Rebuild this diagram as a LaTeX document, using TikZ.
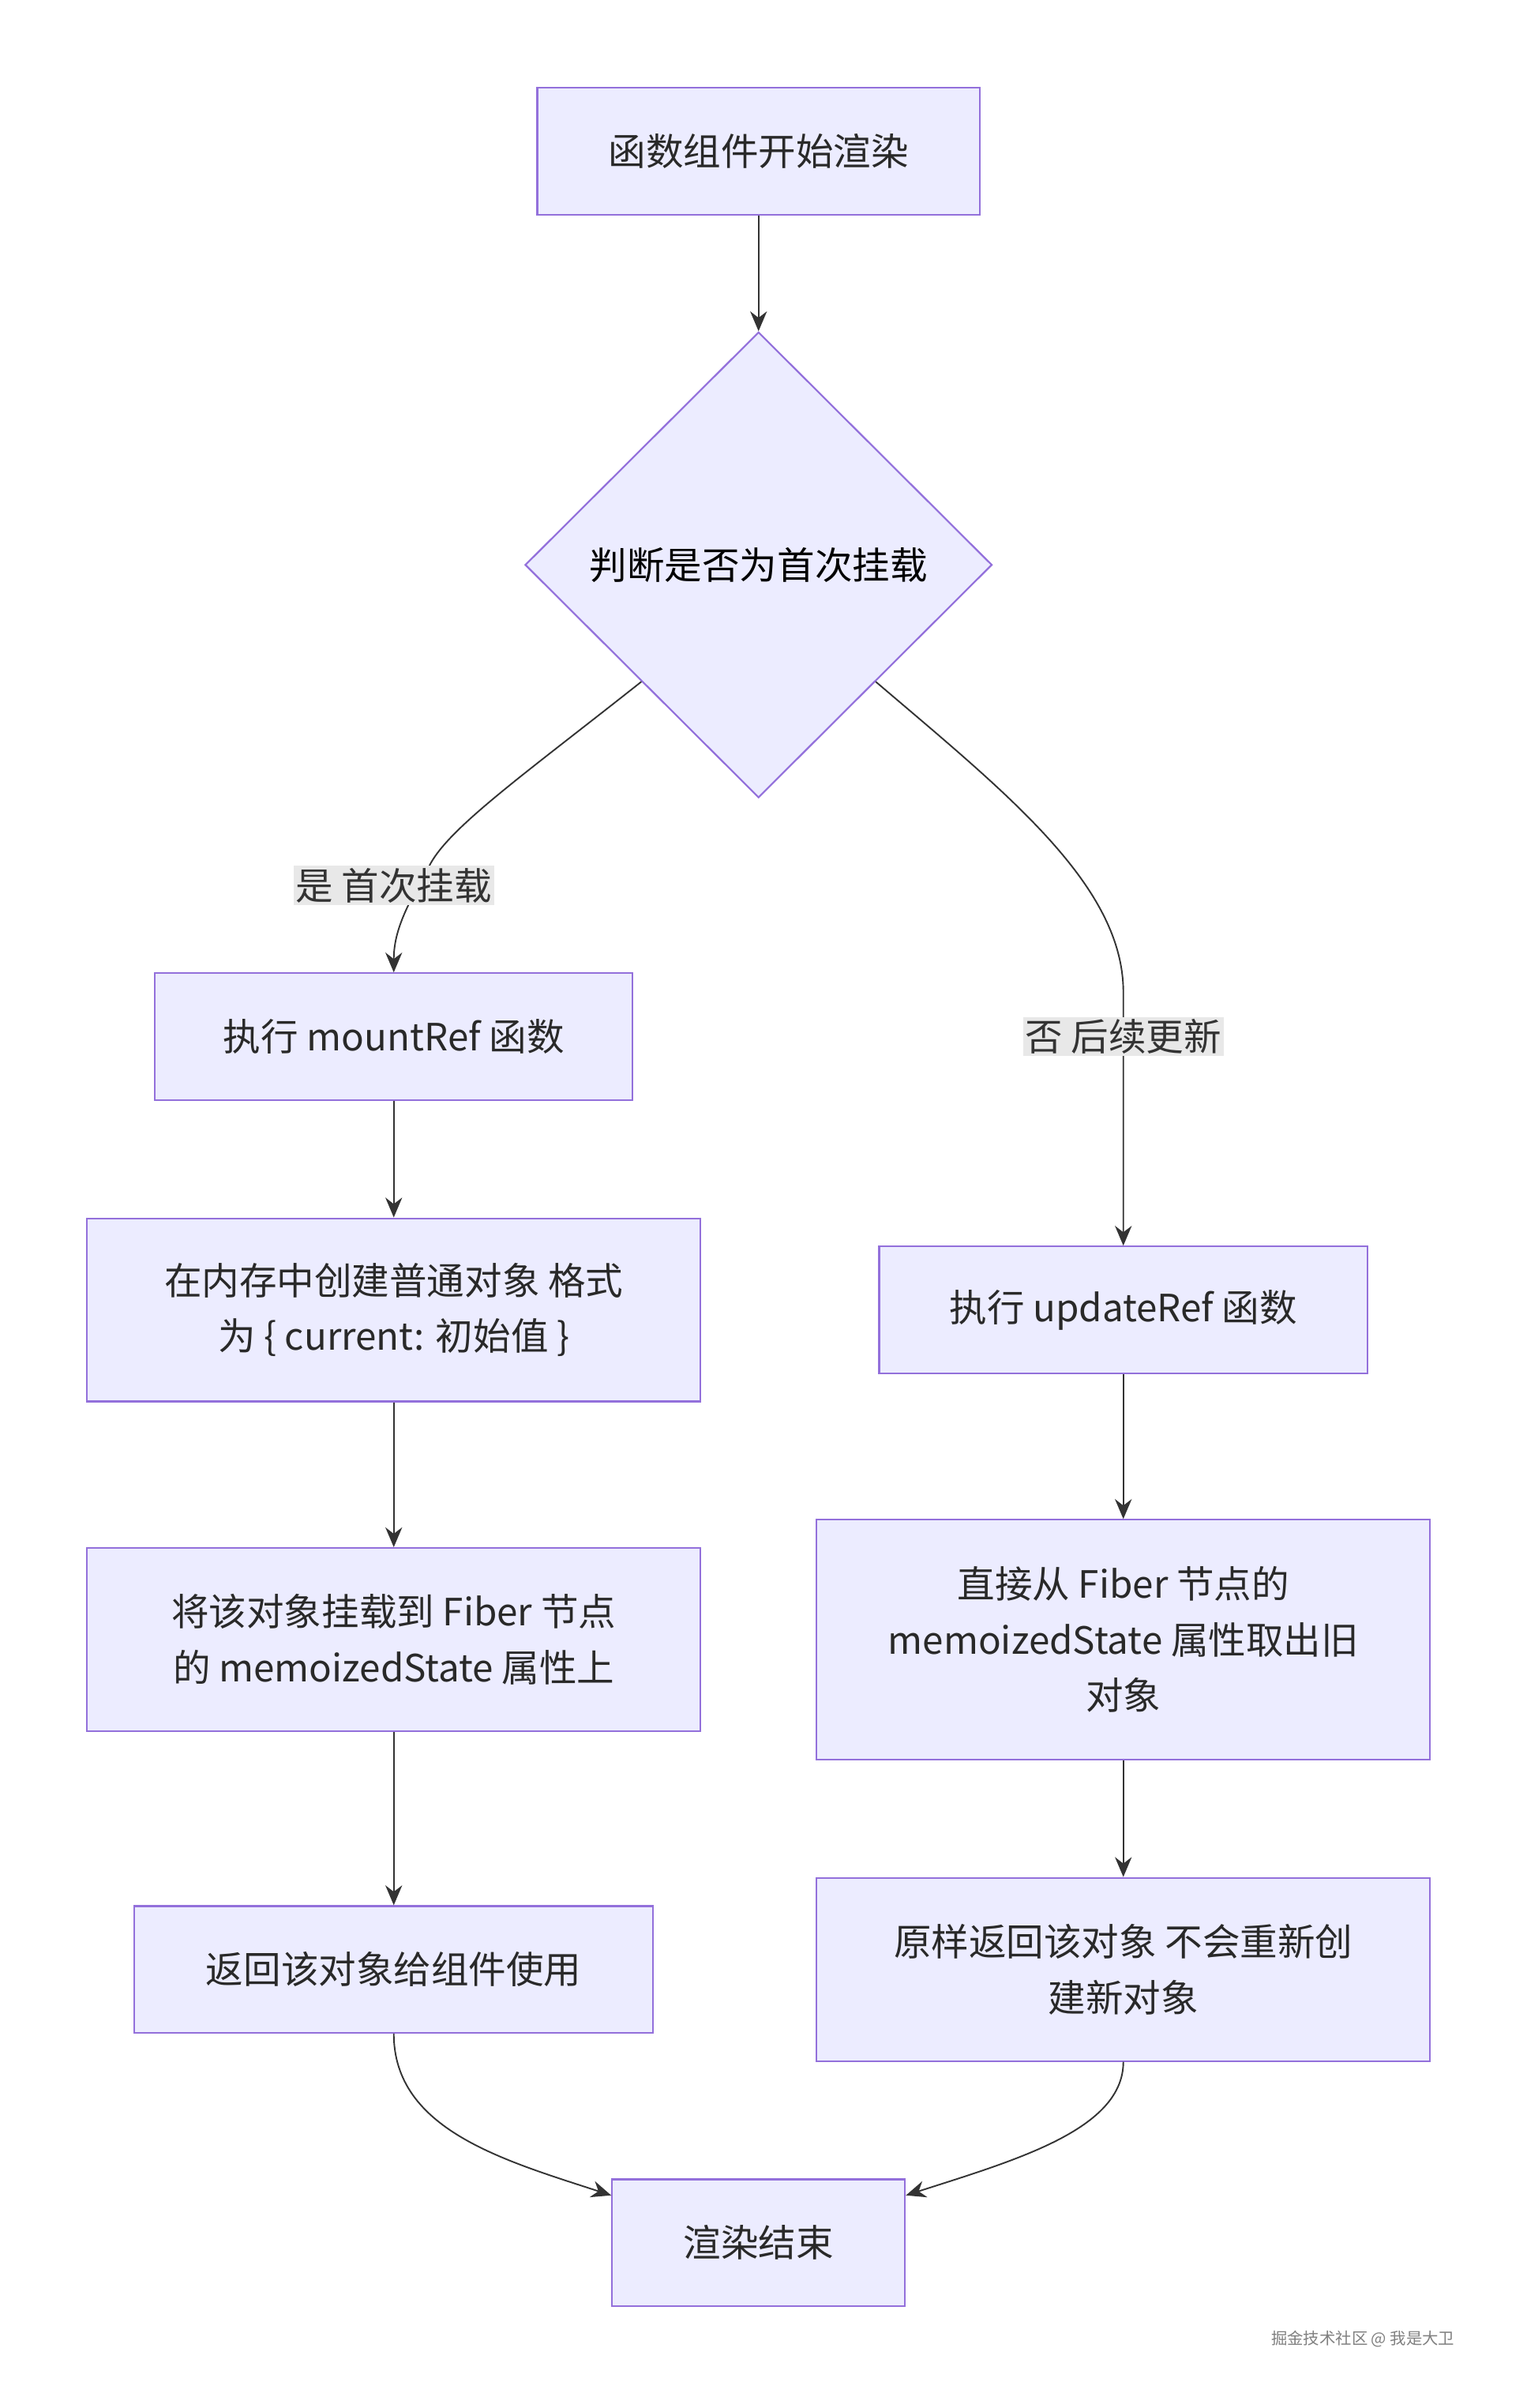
\documentclass[tikz,border=0pt]{standalone}
\usepackage{fontspec}
\setmainfont{Noto Sans CJK SC}
\usetikzlibrary{shapes.geometric,arrows.meta}
\definecolor{nfill}{HTML}{ECECFF}
\definecolor{nline}{HTML}{9370DB}
\definecolor{eline}{HTML}{333333}
\definecolor{lbg}{HTML}{E8E8E8}
\begin{document}
\begin{tikzpicture}[x=0.05cm,y=-0.05cm,
  box/.style={draw=nline,fill=nfill,line width=1.6pt,rectangle,inner sep=0pt,align=center,font=\fontsize{35}{52}\selectfont,text=eline!80!black},
  dia/.style={draw=nline,fill=nfill,line width=1.6pt,diamond,inner sep=0pt,minimum width=15.3cm,minimum height=15.25cm,font=\fontsize{35}{52}\selectfont},
  lab/.style={fill=lbg,inner sep=2pt,font=\fontsize{35}{44}\selectfont,text=eline},
  edge/.style={draw=eline,line width=1.4pt,-{Stealth[length=0.65cm,width=0.55cm]}}]
\useasboundingbox[fill=white] (0,0) rectangle (1000,1577.3);
\node[box,minimum width=14.5cm,minimum height=4.15cm] (start) at (497,99) {函数组件开始渲染};
\node[dia] (d) at (497,370) {判断是否为首次挂载};
\node[box,minimum width=15.65cm,minimum height=4.15cm] (m1) at (258,679) {执行 mountRef 函数};
\node[box,minimum width=20.1cm,minimum height=6cm] (m2) at (258,858) {在内存中创建普通对象 格式\\为 \{ current: 初始值 \}};
\node[box,minimum width=20.1cm,minimum height=6cm] (m3) at (258,1074) {将该对象挂载到 Fiber 节点\\的 memoizedState 属性上};
\node[box,minimum width=17cm,minimum height=4.15cm] (m4) at (258,1290) {返回该对象给组件使用};
\node[box,minimum width=9.6cm,minimum height=4.15cm] (end) at (497,1469) {渲染结束};
\node[box,minimum width=16cm,minimum height=4.15cm] (u1) at (736,858) {执行 updateRef 函数};
\node[box,minimum width=20.1cm,minimum height=7.85cm] (u2) at (736,1074) {直接从 Fiber 节点的\\memoizedState 属性取出旧\\对象};
\node[box,minimum width=20.1cm,minimum height=6cm] (u3) at (736,1290) {原样返回该对象 不会重新创\\建新对象};
\coordinate (lA) at (258,580);
\coordinate (lB) at (736,679);
\draw[edge] (start) -- (d);
\draw[edge] (d.south west) .. controls (340,510) and (290,545) .. (280,570) .. controls (262,600) and (258,615) .. (m1.north);
\draw[edge] (d.south east) .. controls (660,520) and (736,580) .. (736,650) -- (u1.north);
\node[lab] (la) at (lA) {是 首次挂载};
\node[lab] (lb) at (lB) {否 后续更新};
\draw[edge] (m1) -- (m2);
\draw[edge] (m2) -- (m3);
\draw[edge] (m3) -- (m4);
\draw[edge] (u1) -- (u2);
\draw[edge] (u2) -- (u3);
\draw[edge] (m4.south) .. controls (258,1395) and (330,1415) .. (end.north west |- 0,1438);
\draw[edge] (u3.south) .. controls (736,1395) and (665,1415) .. (end.north east |- 0,1438);
\node[font=\fontsize{15}{18}\selectfont,text=gray] (wm) at (893,1532) {掘金技术社区 @ 我是大卫};
\end{tikzpicture}
\end{document}
